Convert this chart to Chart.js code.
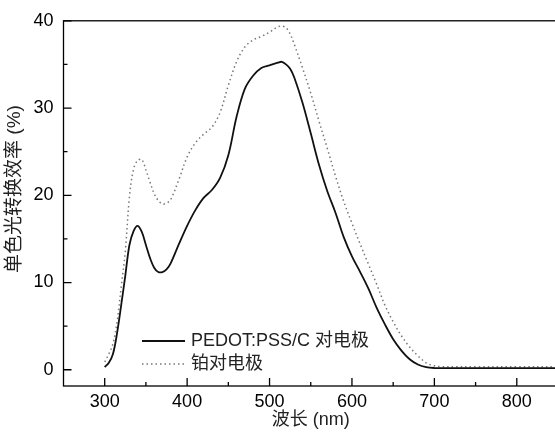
<!DOCTYPE html>
<html>
<head>
<meta charset="utf-8">
<script src="https://cdn.jsdelivr.net/npm/chart.js@4"></script>
<style>
	html, body { margin: 0; padding: 0; background: #fff; overflow: hidden; }
	canvas { display: block; }
</style>
</head>
<body>
<canvas id="ipce" width="560" height="432"></canvas>
<script>
(() => {
	'use strict'

	// wavelength grid (nm) shared by both curves
	const wavelengths = [300, 305, 310, 315, 320, 325, 330, 335, 340, 345, 350, 355, 360, 365, 370, 375, 380, 390,
		400, 410, 420, 430, 440, 450, 460, 470, 480, 490, 500, 510, 515, 520, 525, 530, 540, 550, 560, 570, 580, 590,
		600, 610, 620, 630, 640, 650, 660, 670, 680, 690, 700, 710, 725, 750, 800, 850];

	// IPCE (%) for PEDOT:PSS/C counter electrode
	const pedotValues = [0.3, 0.8, 1.8, 4.2, 7.4, 10.8, 14.3, 15.9, 16.5, 15.8, 14.3, 12.8, 11.7, 11.2, 11.2, 11.5, 12.2, 14.4,
		16.5, 18.3, 19.7, 20.6, 22.0, 24.6, 29.0, 32.2, 33.7, 34.6, 34.9, 35.2, 35.3, 35.0, 34.5, 33.5, 30.6, 27.1, 23.5, 20.5, 18.0, 15.2,
		13.0, 11.2, 9.3, 7.1, 5.2, 3.5, 2.2, 1.2, 0.6, 0.3, 0.2, 0.2, 0.2, 0.2, 0.2, 0.2];

	// IPCE (%) for Pt counter electrode
	const ptValues = [0.9, 1.8, 3.0, 5.5, 9.5, 13.6, 19.8, 23.0, 24.0, 24.1, 22.9, 21.5, 20.2, 19.4, 19.0, 19.1, 19.5, 21.8,
		24.4, 26.0, 27.0, 27.8, 29.5, 32.6, 35.3, 37.0, 37.8, 38.2, 38.7, 39.3, 39.4, 39.2, 38.5, 37.3, 34.6, 31.7, 28.5, 25.4, 22.2, 19.3,
		16.8, 14.4, 12.1, 9.8, 7.4, 5.5, 3.9, 2.6, 1.6, 0.8, 0.45, 0.35, 0.35, 0.35, 0.35, 0.35];

	const seriesLabels = ['PEDOT:PSS/C 对电极', '铂对电极'];

	// tick labels
	const xTicks = [300, 400, 500, 600, 700, 800];
	const xMinorTicks = [350, 450, 550, 650, 750];
	const yTicks = [0, 10, 20, 30, 40];
	const yMinorTicks = [5, 15, 25, 35];

	const fontFamily = '"Liberation Sans", Arial, "Noto Sans CJK SC", sans-serif';

	function toPoints(values) {
		return values.map((v, i) => ({ x: wavelengths[i], y: v }));
	}

	// frame, inward ticks, y title and legend
	const decorations = {
		id: 'decorations',
		afterDatasetsDraw(chart) {
			const { ctx, chartArea: a, scales: { x, y } } = chart;
			ctx.save();
			ctx.strokeStyle = '#000';
			ctx.lineWidth = 1.3;
			ctx.setLineDash([]);
			ctx.strokeRect(a.left, a.top, a.right - a.left, a.bottom - a.top);

			ctx.beginPath();
			xTicks.forEach((v) => {
				const px = x.getPixelForValue(v);
				ctx.moveTo(px, a.bottom); ctx.lineTo(px, a.bottom - 8);
			});
			xMinorTicks.forEach((v) => {
				const px = x.getPixelForValue(v);
				ctx.moveTo(px, a.bottom); ctx.lineTo(px, a.bottom - 4);
			});
			yTicks.forEach((v) => {
				const py = y.getPixelForValue(v);
				ctx.moveTo(a.left, py); ctx.lineTo(a.left + 8, py);
			});
			yMinorTicks.forEach((v) => {
				const py = y.getPixelForValue(v);
				ctx.moveTo(a.left, py); ctx.lineTo(a.left + 4, py);
			});
			ctx.stroke();

			// y axis title
			ctx.fillStyle = '#222';
			ctx.font = '19px ' + fontFamily;
			ctx.textAlign = 'center';
			ctx.textBaseline = 'middle';
			ctx.translate(15, 189);
			ctx.rotate(-Math.PI / 2);
			ctx.fillText('单色光转换效率 (%)', 0, 0);
			ctx.restore();

			// legend
			ctx.save();
			ctx.font = '18px ' + fontFamily;
			ctx.textBaseline = 'middle';
			chart.data.datasets.forEach((ds, i) => {
				const ly = 341 + i * 23;
				ctx.strokeStyle = ds.borderColor;
				ctx.lineWidth = ds.borderWidth;
				ctx.setLineDash(ds.borderDash || []);
				ctx.beginPath();
				ctx.moveTo(142, ly);
				ctx.lineTo(185, ly);
				ctx.stroke();
				ctx.fillStyle = '#222';
				ctx.fillText(ds.label, 191, ly);
			});
			ctx.restore();
		}
	};

	const config = {
		type: 'line',
		data: {
			datasets: [{
				label: seriesLabels[0],
				data: toPoints(pedotValues),
				borderColor: '#111',
				borderWidth: 1.8,
				pointRadius: 0,
				tension: 0.35,
			}, {
				label: seriesLabels[1],
				data: toPoints(ptValues),
				borderColor: '#777',
				borderWidth: 1.5,
				borderDash: [1.5, 3],
				pointRadius: 0,
				tension: 0.35,
			}]
		},
		options: {
			responsive: false,
			animation: false,
			layout: { padding: { top: 17, right: 2, left: 0, bottom: 0 } },
			plugins: {
				legend: { display: false },
				tooltip: { enabled: false },
			},
			scales: {
				x: {
					type: 'linear',
					min: 250,
					max: 850,
					grid: { display: false, drawTicks: false },
					border: { display: false },
					afterBuildTicks: (s) => { s.ticks = xTicks.map((v) => ({ value: v })); },
					afterFit: (s) => { s.height = 46; },
					ticks: {
						padding: 5,
						color: '#000',
						font: { family: fontFamily, size: 18 },
					},
					title: {
						display: true,
						text: '波长 (nm)',
						color: '#222',
						font: { family: fontFamily, size: 18 },
						padding: { top: 0, bottom: 1 },
					},
				},
				y: {
					min: -1.86,
					max: 40,
					grid: { display: false, drawTicks: false },
					border: { display: false },
					afterBuildTicks: (s) => { s.ticks = yTicks.map((v) => ({ value: v })); },
					afterFit: (s) => { s.width = 63.5; },
					ticks: {
						padding: 10,
						color: '#000',
						font: { family: fontFamily, size: 18 },
					},
				},
			},
		},
		plugins: [decorations],
	};

	new Chart(document.getElementById('ipce'), config);
})()
</script>
</body>
</html>
